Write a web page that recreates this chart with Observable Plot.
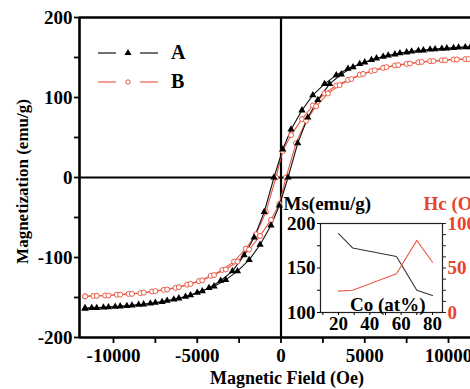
<!DOCTYPE html>
<html><head><meta charset="utf-8">
<script src="https://cdn.jsdelivr.net/npm/d3@7"></script>
<script src="https://cdn.jsdelivr.net/npm/@observablehq/plot@0.6"></script>
<style>
html,body{margin:0;padding:0;background:#fff;}
#wrap{position:relative;width:470px;height:389px;overflow:hidden;}
#wrap > svg, #wrap > div{position:absolute;}
</style>
</head><body><div id="wrap"></div>
<script>
// ---------- main hysteresis data (Oe, emu/g) ----------
const H_A_desc = [11700, 11000, 10300, 9600, 8900, 8200, 7500, 6800, 6100, 5400, 4700, 4000, 3300, 2600, 1900, 1250, 600, 100, -420, -1000, -1600, -2200, -2900, -3600, -4300, -5000, -5700, -6400, -7100, -7800, -8500, -9200, -9900, -10600, -11300, -11700];
const M_A_desc = [163.5, 163, 162, 161, 160, 158.5, 156.5, 154, 151, 147, 142, 136, 128, 117, 103, 84, 60, 35, 0, -43, -75, -97, -117, -129, -138, -144, -149, -152.5, -155.5, -157.5, -159, -160.5, -161.5, -162.5, -163, -163.5];
const H_A_asc = [-11700, -11000, -10300, -9600, -8900, -8200, -7500, -6800, -6100, -5400, -4700, -4000, -3300, -2600, -1900, -1250, -600, -100, 420, 1000, 1600, 2200, 2900, 3600, 4300, 5000, 5700, 6400, 7100, 7800, 8500, 9200, 9900, 10600, 11300, 11700];
const M_A_asc = [-163.5, -163, -162, -161, -160, -158.5, -156.5, -154, -151, -147, -142, -136, -128, -117, -103, -84, -60, -35, 0, 43, 75, 97, 117, 129, 138, 144, 149, 152.5, 155.5, 157.5, 159, 160.5, 161.5, 162.5, 163, 163.5];

const H_B_desc = [11700, 11000, 10300, 9600, 8900, 8200, 7500, 6800, 6100, 5400, 4700, 4000, 3300, 2600, 1900, 1250, 600, 100, -300, -900, -1500, -2100, -2800, -3500, -4200, -4900, -5600, -6300, -7000, -7700, -8400, -9100, -9800, -10500, -11200, -11700];
const M_B_desc = [148.5, 148, 147.5, 146.5, 145.5, 144, 142, 140, 137, 133, 128.5, 122, 115, 105, 90, 73, 53, 33, 0, -43, -71, -89, -105, -115.5, -123, -129.5, -134, -138, -140.5, -142.5, -144.5, -145.5, -146.5, -147.5, -148, -148.5];
const H_B_asc = [-11700, -11000, -10300, -9600, -8900, -8200, -7500, -6800, -6100, -5400, -4700, -4000, -3300, -2600, -1900, -1250, -600, -100, 300, 900, 1500, 2100, 2800, 3500, 4200, 4900, 5600, 6300, 7000, 7700, 8400, 9100, 9800, 10500, 11200, 11700];
const M_B_asc = [-148.5, -148, -147.5, -146.5, -145.5, -144, -142, -140, -137, -133, -128.5, -122, -115, -105, -90, -73, -53, -33, 0, 43, 71, 89, 105, 115.5, 123, 129.5, 134, 138, 140.5, 142.5, 144.5, 145.5, 146.5, 147.5, 148, 148.5];

const xTicks = [-10000, -7500, -5000, -2500, 0, 2500, 5000, 7500, 10000];
const xLabelTicks = [-10000, -5000, 0, 5000, 10000];
const yTicks = [-200, -150, -100, -50, 0, 50, 100, 150, 200];
const yLabelTicks = [-200, -100, 0, 100, 200];
const seriesNames = ["A", "B"];

// ---------- inset data ----------
const co = [20, 29, 57, 70, 80];
const ms = [188.5, 172.5, 163, 125, 119];
const hc = [24, 25, 43.5, 81, 56.5];
const coTicks = [10, 20, 30, 40, 50, 60, 70, 80];
const coLabelTicks = [20, 40, 60, 80];
const msTicks = [100, 125, 150, 175, 200];
const msLabelTicks = [100, 150, 200];
const hcTicks = [0, 12.5, 25, 37.5, 50, 62.5, 75, 87.5, 100];
const hcLabelTicks = [0, 50, 100];

const RED = "#ec5a44";
const RED_TXT = "#e8432c";
const FONT = "'Liberation Serif', 'Times New Roman', serif";

const mk = (H, M) => H.map((h, i) => ({h, m: M[i]}));
const Ad = mk(H_A_desc, M_A_desc), Aa = mk(H_A_asc, M_A_asc);
const Bd = mk(H_B_desc, M_B_desc), Ba = mk(H_B_asc, M_B_asc);

const xDomain = [-12030, 11313];
const yDomain = [-200, 200];

const main = Plot.plot({
  width: 470, height: 389,
  marginLeft: 79, marginRight: 0, marginTop: 17, marginBottom: 52,
  style: {fontFamily: FONT, fontWeight: "bold", fontSize: "19px", background: "transparent", color: "black", overflow: "visible"},
  x: {domain: xDomain},
  y: {domain: yDomain},
  marks: [
    Plot.ruleY([0], {stroke: "#000", strokeWidth: 2.2}),
    Plot.ruleX([0], {stroke: "#000", strokeWidth: 2.2}),
    Plot.line(Bd, {x: "h", y: "m", stroke: RED, strokeWidth: 1.1, clip: true}),
    Plot.line(Ba, {x: "h", y: "m", stroke: RED, strokeWidth: 1.1, clip: true}),
    Plot.line(Ad, {x: "h", y: "m", stroke: "#111", strokeWidth: 1.1, clip: true}),
    Plot.line(Aa, {x: "h", y: "m", stroke: "#111", strokeWidth: 1.1, clip: true}),
    Plot.dot(Bd.concat(Ba), {x: "h", y: "m", r: 2.5, stroke: RED, fill: "white", strokeWidth: 1, clip: true}),
    Plot.dot(Ad.concat(Aa), {x: "h", y: "m", r: 2.7, symbol: "triangle", fill: "#000", stroke: "none", clip: true}),
    Plot.ruleX([xDomain[0]], {stroke: "#000", strokeWidth: 2.6}),
    Plot.ruleY([yDomain[1]], {stroke: "#000", strokeWidth: 2.6}),
    Plot.ruleY([yDomain[0]], {stroke: "#000", strokeWidth: 2.6}),
    Plot.axisX(xTicks, {tickSize: 6, tickPadding: 5, strokeWidth: 1.8, tickFormat: d => xLabelTicks.includes(d) ? String(d) : "", label: null}),
    Plot.axisY(yTicks, {tickSize: 5, tickPadding: 2, strokeWidth: 1.8, tickFormat: d => yLabelTicks.includes(d) ? String(d) : "", label: null}),
    Plot.text(["Magnetization (emu/g)"], {frameAnchor: "left", rotate: -90, dx: -57, dy: 4, text: d => d, fontSize: 17, textAnchor: "middle", lineAnchor: "middle"}),
    Plot.text(["Magnetic Field (Oe)"], {frameAnchor: "bottom", dx: 12, dy: 41, text: d => d, fontSize: 18, textAnchor: "middle", lineAnchor: "middle"})
  ]
});
document.getElementById("wrap").appendChild(main);

// ---------- legend ----------
const leg = d3.select("#wrap").append("svg").attr("width", 470).attr("height", 389)
  .style("left", "0px").style("top", "0px").style("pointer-events", "none")
  .style("font-family", FONT).style("font-weight", "bold").style("font-size", "20px");
seriesNames.forEach((name, i) => {
  const y = i === 0 ? 53 : 82;
  const col = i === 0 ? "#111" : RED;
  const g = leg.append("g");
  g.append("line").attr("x1", 98).attr("x2", 116).attr("y1", y).attr("y2", y).attr("stroke", col).attr("stroke-width", 1.2);
  g.append("line").attr("x1", 140).attr("x2", 158).attr("y1", y).attr("y2", y).attr("stroke", col).attr("stroke-width", 1.2);
  if (i === 0) {
    g.append("path").attr("d", d3.symbol(d3.symbolTriangle, 22)()).attr("transform", `translate(128,${y})`).attr("fill", "#000");
  } else {
    g.append("circle").attr("cx", 128).attr("cy", y).attr("r", 2.2).attr("fill", "white").attr("stroke", RED);
  }
  g.append("text").attr("x", 171).attr("y", y + 6).text(name).attr("fill", "#000");
});

// ---------- inset ----------
const insetOpts = {
  width: 200, height: 145,
  marginLeft: 50, marginRight: 28, marginTop: 28, marginBottom: 28,
  style: {fontFamily: FONT, fontWeight: "bold", fontSize: "19px", background: "transparent", overflow: "visible"},
  x: {domain: [8.5, 86.4]}
};
const insetMs = Plot.plot({
  ...insetOpts,
  y: {domain: [100, 200]},
  marks: [
    Plot.frame({stroke: "#222", strokeWidth: 1.2}),
    Plot.line(co.map((c, i) => ({c, v: ms[i]})), {x: "c", y: "v", stroke: "#333", strokeWidth: 1.1}),
    Plot.axisY(msTicks, {tickSize: 3, tickPadding: 2, tickFormat: d => msLabelTicks.includes(d) ? String(d) : "", label: null, fill: "#000"}),
    Plot.axisX(coTicks, {tickSize: 3, tickPadding: 1, tickFormat: d => coLabelTicks.includes(d) ? String(d) : "", label: null, fill: "#000"}),
    Plot.text(["Ms(emu/g)"], {frameAnchor: "top-left", dx: -37, dy: -20, text: d => d, textAnchor: "start", lineAnchor: "middle", fontSize: 19}),
    Plot.text(["Co (at%)"], {frameAnchor: "bottom-right", dx: -17, dy: -8, text: d => d, textAnchor: "end", lineAnchor: "middle", fontSize: 19})
  ]
});
const insetHc = Plot.plot({
  ...insetOpts,
  x: {domain: [8.5, 86.4], axis: null},
  y: {domain: [0, 100]},
  marks: [
    Plot.line(co.map((c, i) => ({c, v: hc[i]})), {x: "c", y: "v", stroke: RED, strokeWidth: 1.1}),
    Plot.axisY(hcTicks, {anchor: "right", tickSize: 3, tickPadding: 2, tickFormat: d => hcLabelTicks.includes(d) ? String(d) : "", label: null, fill: RED_TXT, stroke: "#222"}),
    Plot.text(["Hc (Oe)"], {frameAnchor: "top-right", dx: -19, dy: -20, text: d => d, textAnchor: "start", lineAnchor: "middle", fontSize: 19, fill: RED_TXT})
  ]
});
[insetMs, insetHc].forEach(s => {
  s.style.position = "absolute"; s.style.left = "270px"; s.style.top = "195px";
  document.getElementById("wrap").appendChild(s);
});
</script></body></html>
